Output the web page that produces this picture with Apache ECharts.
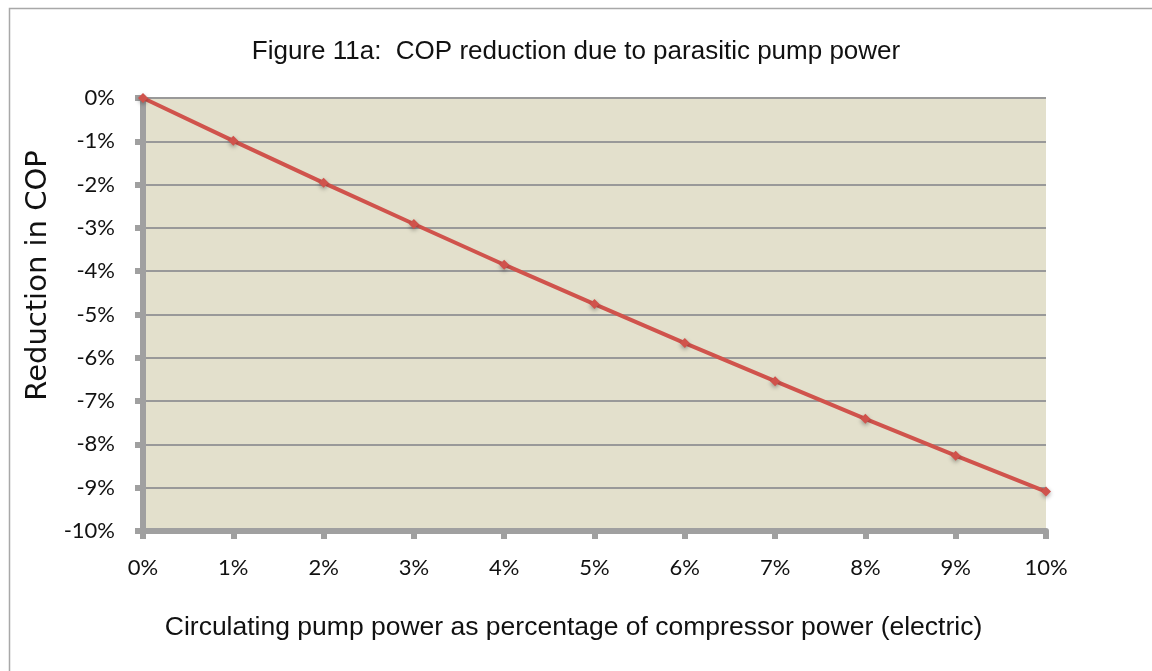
<!DOCTYPE html>
<html>
<head>
<meta charset="utf-8">
<title>Figure 11a</title>
<script src="https://cdn.jsdelivr.net/npm/echarts@6/dist/echarts.min.js"></script>
<style>
  html, body { margin: 0; padding: 0; background: #fff; }
  #chart { width: 1152px; height: 671px; }
</style>
</head>
<body>
<div id="chart"></div>
<script>
// pump power (% of compressor power)
const categories = ['0%', '1%', '2%', '3%', '4%', '5%', '6%', '7%', '8%', '9%', '10%']
// reduction in COP (%)
const reduction = [0, -0.99, -1.96, -2.91, -3.85, -4.76, -5.66, -6.54, -7.41, -8.26, -9.09]

const axisGray = '#a0a0a0'
const tickFont = 'Lato, "Open Sans", sans-serif'
const textFont = '"Liberation Sans", Arial, sans-serif'

const chart = echarts.init(document.getElementById('chart'))

chart.setOption({
  animation: false,
  backgroundColor: '#fff',
  graphic: [{
    type: 'rect',
    left: 7,
    top: 6,
    shape: { width: 1170, height: 690 },
    style: { fill: 'none', stroke: '#a8a8a8', lineWidth: 1.5 },
    silent: true
  }],
  title: {
    text: 'Figure 11a:  COP reduction due to parasitic pump power',
    left: 'center',
    top: 34,
    textStyle: { fontFamily: textFont, fontSize: 26, fontWeight: 'normal', color: '#111' }
  },
  grid: {
    left: 143,
    right: 106,
    top: 98,
    bottom: 140,
    show: true,
    backgroundColor: '#e3e0cc',
    borderWidth: 0
  },
  xAxis: {
    type: 'category',
    data: categories,
    boundaryGap: false,
    name: 'Circulating pump power as percentage of compressor power (electric)',
    nameLocation: 'middle',
    nameGap: 83,
    nameTextStyle: { fontFamily: textFont, fontSize: 26.5, color: '#111', padding: [0, 42, 0, 0] },
    axisLine: { onZero: false, lineStyle: { color: axisGray, width: 6 } },
    axisTick: { alignWithLabel: true, length: 8, lineStyle: { color: axisGray, width: 6 } },
    axisLabel: { fontFamily: tickFont, fontSize: 22, color: '#111', margin: 26 },
    splitLine: { show: false }
  },
  yAxis: {
    type: 'value',
    min: -10,
    max: 0,
    interval: 1,
    name: 'Reduction in COP',
    nameLocation: 'middle',
    nameGap: 87,
    nameTextStyle: { fontFamily: '"DejaVu Sans", sans-serif', fontSize: 29, color: '#111', padding: [0, 0, 0, 78] },
    axisLine: { show: true, lineStyle: { color: axisGray, width: 6 } },
    axisTick: { show: true, length: 8, lineStyle: { color: axisGray, width: 6 } },
    axisLabel: { fontFamily: tickFont, fontSize: 22, color: '#111', margin: 28, formatter: '{value}%' },
    splitLine: { lineStyle: { color: '#999', width: 2 } }
  },
  series: [{
    type: 'line',
    data: reduction,
    symbol: 'diamond',
    symbolSize: 10,
    lineStyle: { color: '#d0534c', width: 4 },
    itemStyle: {
      color: '#d0534c',
      shadowColor: 'rgba(0,0,0,0.35)',
      shadowBlur: 4,
      shadowOffsetY: 2
    },
    z: 5
  }]
})
</script>
</body>
</html>
